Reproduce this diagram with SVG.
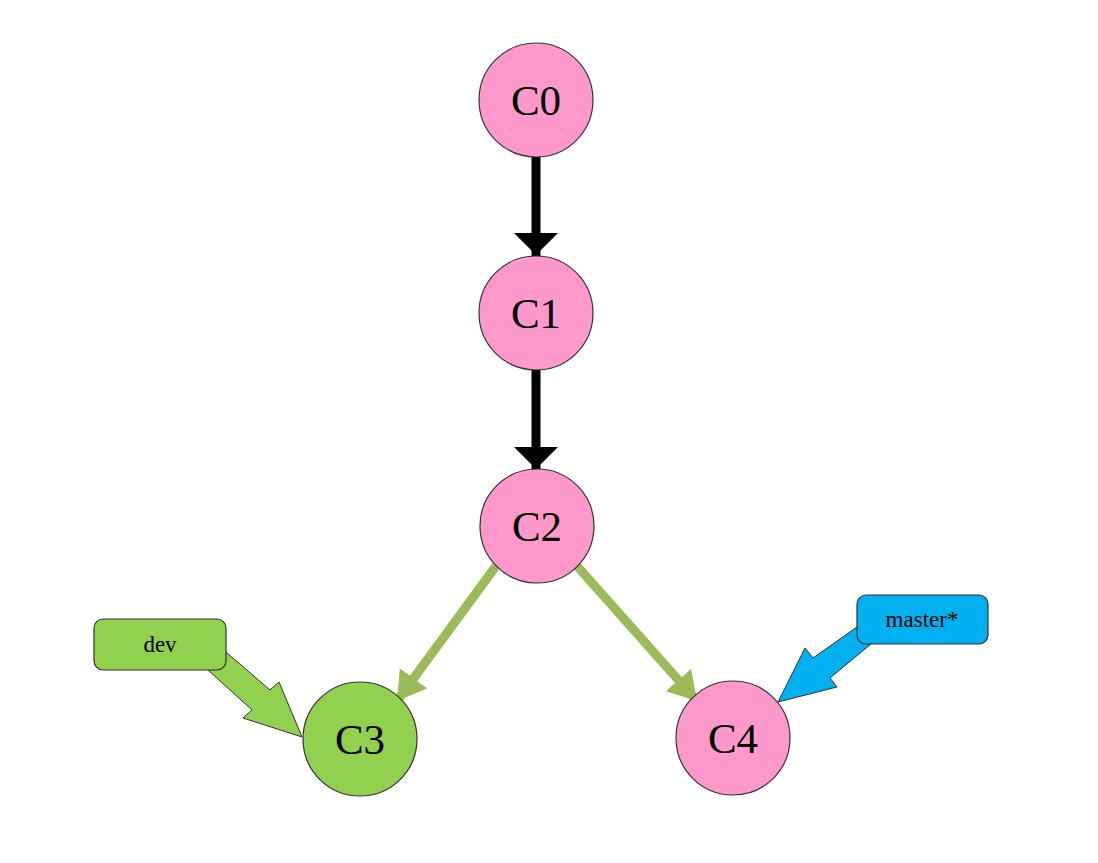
<svg xmlns="http://www.w3.org/2000/svg" width="1098" height="863" viewBox="0 0 1098 863">
<defs>
<style>
.commit{fill:#FF99CC;stroke:#333;stroke-width:1.2}
.green{fill:#92D050}
.lbl{font-family:"Liberation Serif",serif;font-size:43px;fill:#000;text-anchor:middle;dominant-baseline:central}
.tag{font-family:"Liberation Serif",serif;font-size:23px;fill:#000;text-anchor:middle;dominant-baseline:central}
.blk{stroke:#000;stroke-width:9;stroke-linecap:round;fill:none}
.grn{stroke:#9BBB59;stroke-width:9;stroke-linecap:round;fill:none}
</style>
<marker id="hb" markerUnits="userSpaceOnUse" markerWidth="24" markerHeight="46" refX="22" refY="22" orient="auto" viewBox="0 0 24 46">
<path d="M0,0 L22,22 L0,44 z" fill="#000"/>
</marker>
<marker id="hg" markerUnits="userSpaceOnUse" markerWidth="30" markerHeight="36" refX="28" refY="17" orient="auto" viewBox="0 0 30 36">
<path d="M0,0 L28,17 L0,34 z" fill="#9BBB59"/>
</marker>
</defs>
<rect width="1098" height="863" fill="#fff"/>
<g id="connectors">
<line class="blk" x1="536" y1="158" x2="536" y2="255" marker-end="url(#hb)"/>
<line class="blk" x1="536" y1="371" x2="536" y2="469" marker-end="url(#hb)"/>
<line class="grn" x1="496" y1="566" x2="397" y2="701" marker-end="url(#hg)"/>
<line class="grn" x1="577" y1="566" x2="697" y2="701" marker-end="url(#hg)"/>
<polygon points="226,652 270,690 279,682 302,737 243,718 252,710 208,670" fill="#92D050" stroke="#333" stroke-width="1"/>
<polygon points="857,627 813,658 805,648 778,702 837,687 830,678 871,644" fill="#00B0F0" stroke="#333" stroke-width="1"/>
</g>
<g id="C0"><circle class="commit" cx="536" cy="100" r="57"/><text class="lbl" x="536" y="100">C0</text></g>
<g id="C1"><circle class="commit" cx="536" cy="313" r="57"/><text class="lbl" x="536" y="313">C1</text></g>
<g id="C2"><circle class="commit" cx="537" cy="526" r="57"/><text class="lbl" x="537" y="526">C2</text></g>
<g id="C3"><circle class="commit green" cx="360" cy="739" r="57"/><text class="lbl" x="360" y="739">C3</text></g>
<g id="C4"><circle class="commit" cx="733" cy="738" r="57"/><text class="lbl" x="733" y="738">C4</text></g>
<g id="dev"><rect x="94" y="619" width="132" height="51" rx="9" fill="#92D050" stroke="#333" stroke-width="1.2"/><text class="tag" x="160" y="644">dev</text></g>
<g id="master"><rect x="857" y="595" width="131" height="49" rx="9" fill="#00B0F0" stroke="#333" stroke-width="1.2"/><text class="tag" x="922" y="619">master*</text></g>
</svg>
